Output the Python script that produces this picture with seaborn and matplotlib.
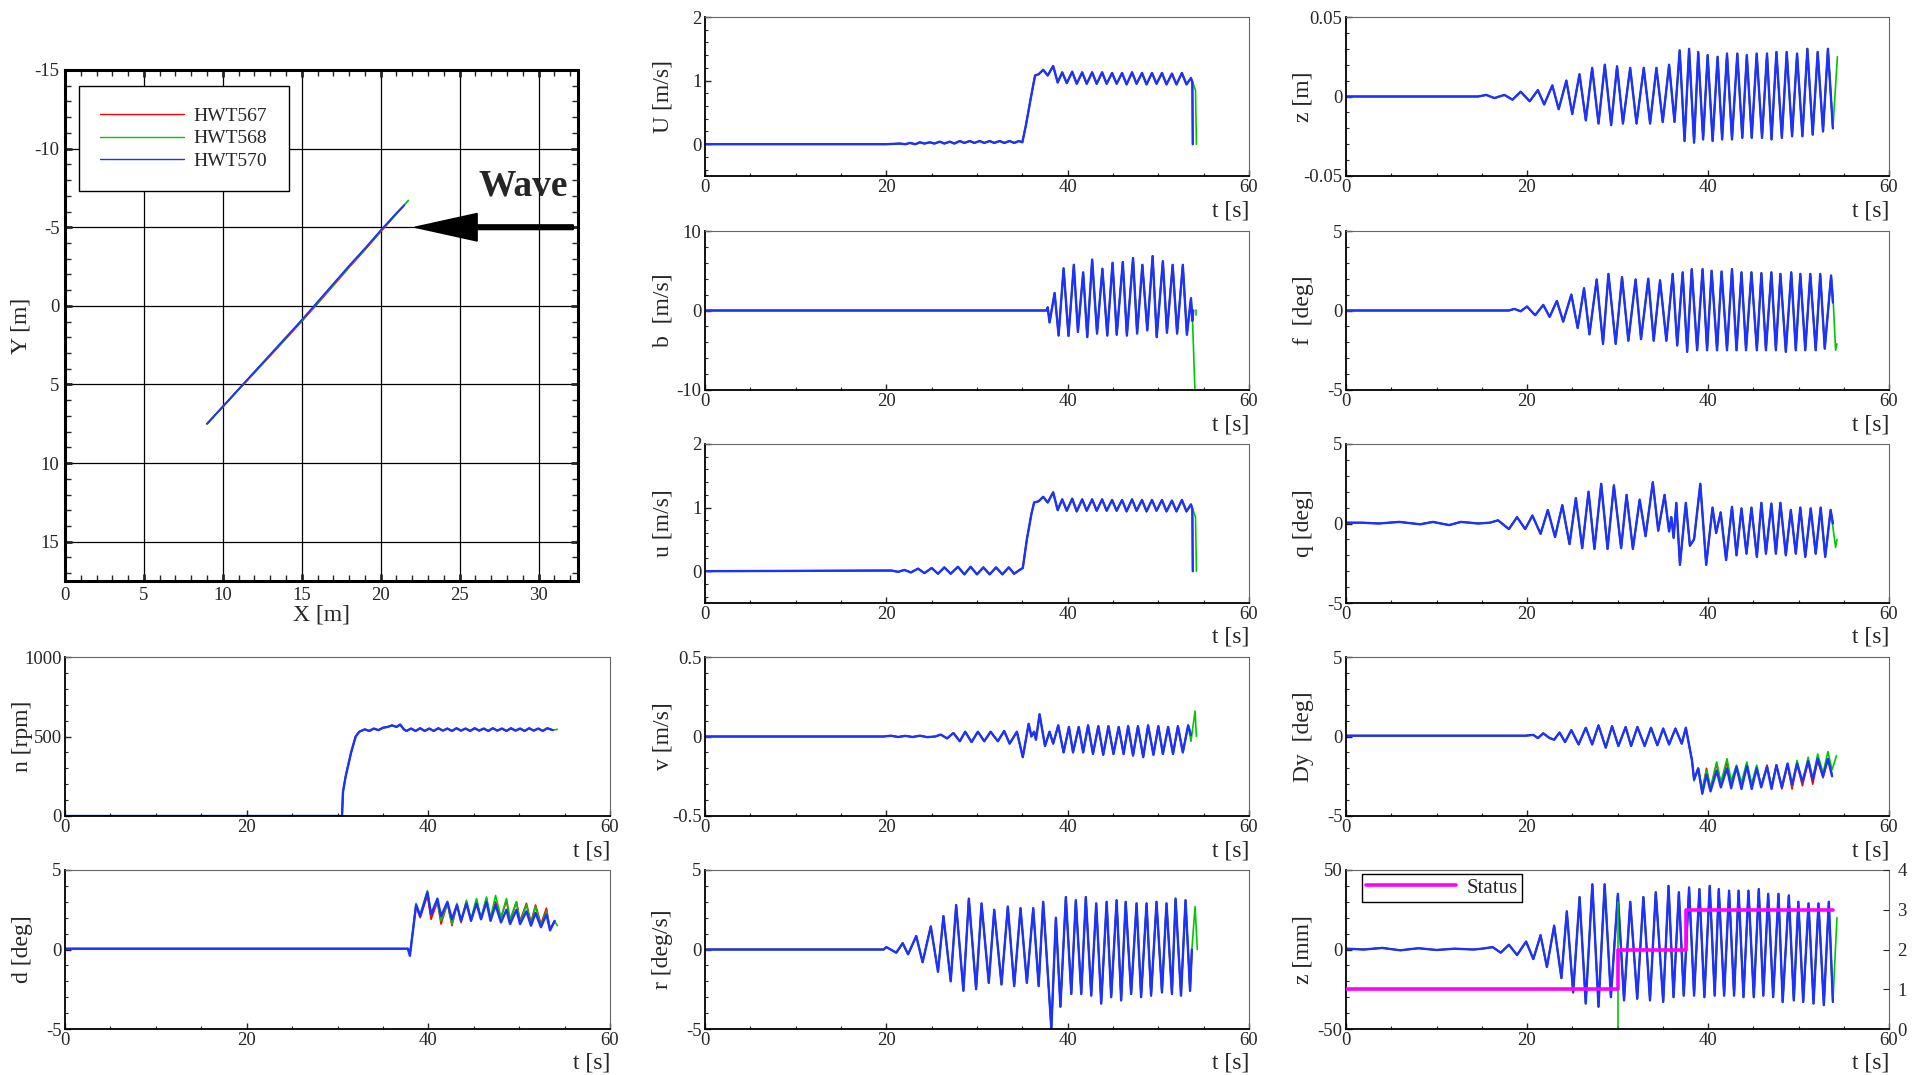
import matplotlib
matplotlib.use('Agg')
import matplotlib.pyplot as plt
from matplotlib.ticker import MultipleLocator, FuncFormatter
import seaborn as sns

# ---------------- data (t [s], value) ----------------
# ship track X/Y [m]
traj_red = [(9.0, 7.5), (10, 6.42), (11, 5.33), (12, 4.25), (13, 3.17), (14, 2.08), (15, 0.98),
            (16, -0.15), (17, -1.3), (18, -2.45), (19, -3.57), (20, -4.72), (21, -5.85), (21.4, -6.3)]
traj_green = [(9.0, 7.5), (10, 6.41), (11, 5.31), (12, 4.22), (13, 3.13), (14, 2.03), (15, 0.93),
              (16, -0.2), (17, -1.35), (18, -2.5), (19, -3.62), (20, -4.77), (21, -5.88), (21.75, -6.7)]
traj_blue = [(9.0, 7.5), (10, 6.4), (11, 5.3), (12, 4.2), (13, 3.1), (14, 2.0), (15, 0.9),
             (16, -0.25), (17, -1.4), (18, -2.55), (19, -3.65), (20, -4.8), (21, -5.9), (21.5, -6.4)]
runs = ['HWT567', 'HWT568', 'HWT570']

U_pts = [(0, 0), (20, 0.0), (21.5, 0.01), (22.1, 0.0), (22.6, 0.02), (23.2, 0.0), (23.7, 0.03),
         (24.2, 0.01), (24.8, 0.03), (25.3, 0.01), (25.9, 0.04), (26.4, 0.01), (27.0, 0.04),
         (27.5, 0.01), (28.1, 0.05), (28.6, 0.02), (29.2, 0.05), (29.7, 0.02), (30.3, 0.05),
         (30.8, 0.02), (31.4, 0.05), (31.9, 0.02), (32.5, 0.05), (33.0, 0.02), (33.6, 0.05),
         (34.1, 0.02), (34.6, 0.05), (35.0, 0.03), (35.4, 0.3), (35.9, 0.7), (36.4, 1.08),
         (36.8, 1.1), (37.3, 1.17), (37.8, 1.08), (38.4, 1.23), (38.9, 0.97), (39.4, 1.13),
         (39.9, 0.96), (40.5, 1.14), (41.0, 0.95), (41.6, 1.13), (42.1, 0.95), (42.7, 1.13),
         (43.2, 0.95), (43.8, 1.13), (44.3, 0.95), (44.9, 1.12), (45.4, 0.95), (46.0, 1.12),
         (46.5, 0.94), (47.1, 1.13), (47.6, 0.95), (48.2, 1.12), (48.7, 0.94), (49.3, 1.12),
         (49.8, 0.95), (50.4, 1.12), (50.9, 0.94), (51.5, 1.11), (52.0, 0.94), (52.6, 1.12),
         (53.1, 0.94), (53.6, 1.04)]
U_end = [(53.75, 0.98), (53.8, 0.0)]
U_end_green = [(54.1, 0.85), (54.2, 0.0)]

b_pts = [(0, 0), (37.7, 0), (37.8, 0.4), (38.0, -1.5), (38.56, 2.2), (39.0, -3.15), (39.55, 5.3),
         (40.09, -3.2), (40.68, 5.75), (41.13, -2.7), (41.71, 4.8), (42.16, -3.35), (42.7, 6.4),
         (43.24, -2.9), (43.83, 5.25), (44.37, -3.15), (44.95, 6.0), (45.41, -3.05), (46.08, 6.1),
         (46.53, -3.15), (47.21, 6.6), (47.66, -2.9), (48.24, 5.75), (48.78, -2.5), (49.37, 6.85),
         (49.82, -3.35), (50.5, 6.2), (50.95, -2.8), (51.58, 5.75), (52.07, -2.9), (52.7, 5.75),
         (53.15, -3.05), (53.6, 1.55)]
b_end = [(53.75, -1.3), (53.85, 0.0)]
b_end_green = [(53.75, -0.5), (54.05, -10.5)]
b_green_stub = [(54.2, -0.6), (54.2, 0.1)]

u_pts = [(0, 0), (19.5, 0.01), (20.6, 0.01), (21.3, -0.01), (22.0, 0.02), (22.7, -0.02), (23.5, 0.04),
         (24.2, -0.03), (25.0, 0.05), (25.7, -0.04), (26.4, 0.06), (27.1, -0.04), (27.9, 0.07),
         (28.6, -0.05), (29.3, 0.07), (30.0, -0.05), (30.7, 0.06), (31.4, -0.05), (32.1, 0.06),
         (32.8, -0.05), (33.5, 0.06), (34.1, -0.04), (34.7, 0.02), (35.05, 0.05), (35.5, 0.5),
         (36.0, 0.9), (36.3, 1.08), (36.8, 1.1), (37.3, 1.17), (37.8, 1.08), (38.4, 1.24),
         (38.9, 0.96), (39.4, 1.13), (39.9, 0.95), (40.5, 1.14), (41.0, 0.94), (41.6, 1.13),
         (42.1, 0.95), (42.7, 1.13), (43.2, 0.95), (43.8, 1.13), (44.3, 0.95), (44.9, 1.12),
         (45.4, 0.95), (46.0, 1.12), (46.5, 0.94), (47.1, 1.13), (47.6, 0.95), (48.2, 1.12),
         (48.7, 0.94), (49.3, 1.12), (49.8, 0.95), (50.4, 1.12), (50.9, 0.94), (51.5, 1.11),
         (52.0, 0.94), (52.6, 1.12), (53.1, 0.94), (53.6, 1.05)]
u_end = [(53.75, 0.98), (53.8, 0.0)]
u_end_green = [(54.1, 0.85), (54.2, 0.0)]

v_pts = [(0, 0), (19.7, 0.0), (20.5, 0.005), (21.3, -0.003), (22.1, 0.004), (22.9, -0.003),
         (23.7, 0.005), (24.5, -0.004), (25.4, 0.0), (26.0, 0.012), (26.7, -0.012), (27.4, 0.022),
         (28.1, -0.03), (28.7, 0.03), (29.4, -0.035), (30.1, 0.03), (30.8, -0.03), (31.5, 0.03),
         (32.3, -0.03), (33.0, 0.035), (33.6, -0.045), (34.4, 0.03), (35.05, -0.13), (35.7, 0.08),
         (36.0, 0.0), (36.3, 0.03), (36.5, -0.02), (36.9, 0.14), (37.5, -0.06), (38.0, 0.03),
         (38.4, -0.045), (38.96, 0.07), (39.55, -0.1), (40.14, 0.06), (40.59, -0.1), (41.22, 0.06),
         (41.71, -0.1), (42.25, 0.07), (42.79, -0.11), (43.38, 0.065), (43.92, -0.115),
         (44.5, 0.065), (45.05, -0.11), (45.63, 0.06), (46.17, -0.11), (46.67, 0.065),
         (47.21, -0.12), (47.75, 0.065), (48.33, -0.13), (48.87, 0.07), (49.46, -0.115),
         (50.0, 0.065), (50.5, -0.11), (51.08, 0.06), (51.62, -0.11), (52.16, 0.065),
         (52.7, -0.1), (53.29, 0.07)]
v_end = [(53.6, 0.01)]
v_end_green = [(53.6, -0.03), (54.05, 0.16), (54.2, 0.0)]

r_pts = [(0, 0), (19.7, 0.0), (20.0, 0.15), (21.1, -0.2), (21.8, 0.4), (22.4, -0.3), (23.3, 0.85),
         (24.0, -0.8), (24.9, 1.45), (25.7, -1.4), (26.3, 2.1), (27.1, -2.0), (27.7, 2.8),
         (28.5, -2.6), (29.1, 3.2), (29.9, -2.5), (30.5, 2.9), (31.3, -2.1), (31.9, 2.5),
         (32.7, -2.2), (33.4, 2.7), (34.1, -2.3), (34.8, 2.6), (35.5, -2.1), (36.2, 2.6),
         (36.8, -2.3), (37.3, 3.0), (38.2, -5.0), (38.7, 2.0), (39.2, -3.6), (39.8, 3.3),
         (40.4, -2.8), (40.9, 3.1), (41.5, -2.8), (42.0, 3.3), (42.6, -2.9), (43.15, 2.9),
         (43.7, -3.4), (44.3, 3.0), (44.8, -3.0), (45.4, 3.1), (45.9, -3.2), (46.4, 3.0),
         (47.0, -2.8), (47.6, 2.9), (48.1, -3.0), (48.7, 2.9), (49.2, -2.9), (49.8, 3.0),
         (50.4, -2.7), (50.9, 2.9), (51.5, -2.8), (51.9, 3.2), (52.5, -2.9), (53.0, 3.1),
         (53.5, -2.6)]
r_end = [(53.7, 0.0)]
r_end_green = [(53.7, 0.0), (54.05, 2.7), (54.3, 0.0)]

z_pts = [(0, 0), (14.6, 0.0), (15.5, 0.001), (16.4, -0.001), (17.5, 0.001), (18.4, -0.002),
         (19.3, 0.003), (20.3, -0.003), (21.2, 0.004), (21.9, -0.005), (22.8, 0.007),
         (23.5, -0.008), (24.35, 0.010), (25.0, -0.011), (25.8, 0.014), (26.5, -0.015),
         (27.2, 0.018), (27.9, -0.017), (28.6, 0.020), (29.3, -0.018), (29.95, 0.019),
         (30.6, -0.017), (31.4, 0.018), (32.1, -0.017), (32.9, 0.018), (33.6, -0.017),
         (34.3, 0.018), (35.0, -0.016), (35.7, 0.020), (36.3, -0.016), (36.87, 0.029),
         (37.41, -0.028), (37.91, 0.030), (38.46, -0.029), (38.92, 0.028), (39.46, -0.027),
         (39.96, 0.026), (40.51, -0.028), (41.06, 0.025), (41.56, -0.027), (42.1, 0.027),
         (42.65, -0.027), (43.24, 0.027), (43.79, -0.026), (44.29, 0.026), (44.83, -0.026),
         (45.38, 0.027), (45.97, -0.026), (46.52, 0.027), (47.02, -0.027), (47.56, 0.028),
         (48.16, -0.026), (48.7, 0.028), (49.29, -0.025), (49.84, 0.027), (50.43, -0.025),
         (50.98, 0.030), (51.57, -0.024), (52.12, 0.028), (52.71, -0.022), (53.25, 0.030),
         (53.8, -0.020)]
z_end_green = [(54.3, 0.025)]

f_pts = [(0, 0), (18.0, 0.0), (18.6, 0.1), (19.3, -0.05), (20.0, 0.25), (20.9, -0.3), (21.8, 0.35),
         (22.5, -0.4), (23.3, 0.6), (24.0, -0.7), (24.9, 1.0), (25.6, -1.1), (26.3, 1.4),
         (26.9, -1.5), (27.7, 1.95), (28.4, -2.1), (29.0, 2.3), (29.8, -2.1), (30.5, 2.1),
         (31.2, -1.9), (32.0, 1.95), (32.6, -1.8), (33.4, 2.0), (34.0, -1.9), (34.7, 1.9),
         (35.4, -1.9), (36.1, 2.3), (36.6, -2.2), (37.2, 2.4), (37.7, -2.6), (38.2, 2.6),
         (38.8, -2.5), (39.4, 2.6), (39.9, -2.5), (40.4, 2.5), (41.0, -2.5), (41.5, 2.45),
         (42.1, -2.5), (42.65, 2.6), (43.15, -2.5), (43.7, 2.4), (44.2, -2.5), (44.8, 2.4),
         (45.4, -2.5), (45.9, 2.35), (46.4, -2.5), (47.0, 2.4), (47.5, -2.5), (48.0, 2.3),
         (48.6, -2.6), (49.2, 2.4), (49.7, -2.5), (50.2, 2.3), (50.75, -2.5), (51.3, 2.3),
         (51.9, -2.5), (52.4, 2.3), (52.9, -2.4), (53.6, 2.2)]
f_end = [(53.8, 0.5)]
f_end_green = [(53.8, 1.0), (54.1, -2.5), (54.25, -2.1)]

q_pts = [(0, 0.05), (1.8, 0.05), (3.6, 0.0), (5.9, 0.1), (8.2, -0.05), (9.6, 0.1), (11.4, -0.1),
         (12.7, 0.1), (14.6, 0.0), (15.9, 0.05), (16.8, 0.2), (18.0, -0.35), (18.9, 0.4),
         (19.8, -0.35), (20.6, 0.5), (21.5, -0.65), (22.3, 0.85), (23.1, -0.85), (23.9, 1.15),
         (24.7, -1.3), (25.4, 1.6), (26.1, -1.55), (26.8, 2.0), (27.45, -1.6), (28.2, 2.5),
         (28.9, -1.6), (29.6, 2.4), (30.4, -1.55), (31.0, 1.8), (31.7, -1.6), (32.45, 1.5),
         (33.1, -0.8), (33.9, 2.6), (34.5, -0.45), (35.2, 1.8), (35.7, -0.5), (35.95, 0.4),
         (36.2, -0.9), (36.5, 1.3), (36.9, -2.6), (37.55, 1.3), (38.0, -1.4), (38.46, -1.0),
         (39.15, 2.5), (39.8, -2.6), (40.5, 1.0), (40.9, -0.6), (41.4, 0.7), (42.0, -2.3),
         (42.65, 1.05), (43.15, -2.0), (43.7, 0.95), (44.25, -1.9), (44.8, 1.0), (45.4, -2.1),
         (45.9, 1.3), (46.4, -1.9), (47.0, 1.25), (47.5, -1.9), (48.0, 1.3), (48.6, -2.0),
         (49.15, 0.85), (49.7, -1.9), (50.2, 1.0), (50.75, -2.1), (51.35, 0.95), (51.9, -1.9),
         (52.45, 1.0), (52.95, -2.1), (53.55, 0.85)]
q_end = [(53.8, 0.0)]
q_end_green = [(54.1, -1.5), (54.25, -1.0)]

Dy_pre = [(0, 0.05), (19.8, 0.05), (20.7, 0.1), (21.2, -0.1), (21.8, 0.2), (22.5, -0.1), (23.0, -0.2),
          (23.6, 0.25), (24.2, -0.35), (24.9, 0.4), (25.7, -0.5), (26.5, 0.55), (27.2, -0.5),
          (27.9, 0.7), (28.7, -0.7), (29.4, 0.65), (30.1, -0.6), (30.9, 0.6), (31.5, -0.6),
          (32.2, 0.6), (33.0, -0.6), (33.7, 0.55), (34.4, -0.55), (35.05, 0.5), (35.7, -0.5),
          (36.4, 0.5), (37.1, -0.45), (37.55, 0.55), (38.23, -1.5)]
Dy_t = [38.46, 38.92, 39.37, 39.83, 40.28, 40.96, 41.42, 42.1, 42.56, 43.15, 43.7, 44.29, 44.83,
        45.38, 45.88, 46.52, 47.02, 47.56, 48.16, 48.79, 49.29, 49.84, 50.43, 51.07, 51.57,
        52.12, 52.71, 53.25, 53.71]
Dy_red = [-2.7, -2.0, -3.5, -2.0, -3.3, -1.7, -3.0, -1.6, -3.0, -2.0, -3.1, -1.9, -3.0, -2.0, -3.1,
          -1.8, -3.2, -1.8, -3.3, -1.8, -3.3, -1.7, -3.1, -1.6, -3.0, -1.5, -2.6, -1.4, -2.4]
Dy_green = [-2.8, -2.0, -3.3, -2.1, -3.2, -1.6, -2.9, -1.4, -2.8, -1.8, -2.9, -1.6, -3.0, -1.8, -3.1,
            -1.9, -3.1, -1.8, -3.2, -1.7, -3.1, -1.5, -2.9, -1.3, -2.7, -1.1, -2.3, -0.95, -2.1]
Dy_blue = [-2.7, -2.0, -3.6, -2.4, -3.45, -2.15, -3.2, -2.0, -3.25, -1.9, -3.3, -1.85, -3.3, -2.0,
           -3.2, -1.9, -3.3, -1.8, -3.2, -1.7, -3.05, -1.7, -2.85, -1.55, -2.7, -1.4, -2.5, -1.4, -2.5]
Dy_end_green = [(54.2, -1.2)]

zmm_pts = [(0, 0.5), (2, 0.0), (4, 1.0), (6, -0.5), (8, 0.8), (10, -0.3), (12, 0.5), (14.1, 0.0),
           (15.0, 0.5), (16.2, 1.5), (17.1, -2.0), (18.0, 3.0), (18.9, -3.5), (19.9, 5.0),
           (20.7, -6.0), (21.5, 9.0), (22.2, -11.0), (23.0, 15.0), (23.8, -18.0), (24.4, 24.0),
           (25.1, -27.0), (25.81, 33), (26.49, -34), (27.22, 41), (27.9, -36), (28.58, 41),
           (29.27, -30), (30.04, 35), (30.72, -32), (31.41, 30), (32.18, -31), (32.86, 33),
           (33.59, -32), (34.23, 36), (35.05, -33), (35.64, 40), (36.19, -30), (36.78, 36),
           (37.32, -29), (37.91, 39), (38.46, -29), (39.05, 38), (39.6, -30), (40.19, 40),
           (40.74, -29), (41.19, 38), (41.78, -29), (42.33, 37), (42.88, -29), (43.38, 37),
           (43.92, -30), (44.47, 37), (45.06, -30), (45.61, 38), (46.11, -29), (46.65, 35),
           (47.2, -30), (47.79, 35), (48.25, -33), (48.93, 34), (49.48, -32), (49.98, 30),
           (50.52, -33), (51.11, 29), (51.66, -34), (52.21, 29), (52.8, -35), (53.35, 30),
           (53.8, -33)]
zmm_end_green = [(54.25, 20)]
zmm_green_spike = [(30.05, 30), (30.05, -55)]
status_t = [0, 30.0, 37.6, 53.8]
status_v = [1, 2, 3, 3]

n_pts = [(0, 0), (30.5, 0), (30.6, 150), (30.9, 250), (31.5, 400), (32.0, 500), (32.4, 530),
         (33.0, 545), (33.5, 535), (34.0, 550), (34.5, 540), (35.0, 555), (35.5, 560), (36.0, 570),
         (36.5, 560), (36.9, 575), (37.3, 545), (37.6, 535), (38.1, 550), (38.6, 535), (39.1, 552),
         (39.6, 535), (40.1, 550), (40.6, 535), (41.1, 552), (41.6, 537), (42.1, 550), (42.6, 535),
         (43.1, 552), (43.6, 537), (44.1, 550), (44.6, 535), (45.1, 552), (45.6, 537), (46.1, 550),
         (46.6, 535), (47.1, 552), (47.6, 537), (48.1, 550), (48.6, 535), (49.1, 552), (49.6, 537),
         (50.1, 550), (50.6, 535), (51.1, 552), (51.6, 537), (52.1, 550), (52.6, 535), (53.1, 552),
         (53.7, 540)]
n_end_green = [(54.2, 545)]

d_t = [0, 37.75, 37.97, 38.65, 39.1, 39.9, 40.3, 41.0, 41.4, 42.1, 42.6, 43.15, 43.6, 44.2, 44.7,
       45.3, 45.8, 46.4, 46.85, 47.4, 48.0, 48.6, 49.0, 49.7, 50.1, 50.8, 51.3, 51.8, 52.4, 53.0,
       53.4, 53.9]
d_red = [0.05, 0.05, -0.3, 2.7, 2.0, 3.4, 1.9, 3.0, 1.6, 2.9, 1.5, 2.8, 1.7, 3.0, 1.8, 3.1, 1.9,
         3.2, 1.9, 3.0, 2.0, 3.1, 1.8, 3.0, 1.8, 2.9, 1.7, 2.8, 1.6, 2.6, 1.3, 1.7]
d_green = [0.05, 0.05, -0.3, 2.9, 2.2, 3.7, 2.3, 3.0, 1.8, 2.9, 1.6, 2.9, 1.8, 3.1, 1.9, 3.2, 2.0,
           3.3, 2.0, 3.4, 2.0, 3.2, 1.9, 3.0, 1.7, 2.8, 1.6, 2.7, 1.5, 2.4, 1.3, 1.8]
d_blue = [0.05, 0.05, -0.4, 2.8, 2.1, 3.6, 2.2, 3.2, 2.1, 3.0, 1.9, 2.8, 1.8, 2.9, 1.8, 2.9, 1.9,
          3.0, 1.8, 2.8, 1.7, 2.5, 1.6, 2.5, 1.6, 2.4, 1.5, 2.3, 1.4, 2.2, 1.2, 1.8]
d_end_green = [(54.2, 1.5)]

# ---------------- style ----------------
sns.set_style('ticks')
plt.rcParams['font.family'] = ['Liberation Serif', 'DejaVu Serif']
plt.rcParams['axes.unicode_minus'] = False
plt.rcParams['xtick.direction'] = 'in'
plt.rcParams['ytick.direction'] = 'in'

RED, GREEN, BLUE, MAG = '#ff0000', '#00c800', '#1e32ff', '#ff00ff'
TICK_FS, LABEL_FS = 13.5, 17

W, H = 1927, 1075
fig = plt.figure(figsize=(W / 100, H / 100), dpi=100)


def fmt(v, pos):
    if abs(v) < 1e-9:
        return '0'
    return f'{v:g}'


def draw(ax, pts, color, lw, label=None):
    t, v = zip(*pts)
    sns.lineplot(x=list(t), y=list(v), ax=ax, color=color, lw=lw, sort=False,
                 estimator=None, legend=False, label=label)


def panel(left, top, width, ylabel, ylim, major, minor, series):
    height = 159
    ax = fig.add_axes([left / W, 1 - (top + height) / H, width / W, height / H])
    for pts, color, lw in series:
        draw(ax, pts, color, lw)
    ax.set_xlim(0, 60)
    ax.set_ylim(*ylim)
    ax.xaxis.set_major_locator(MultipleLocator(20))
    ax.xaxis.set_minor_locator(MultipleLocator(5))
    ax.yaxis.set_major_locator(MultipleLocator(major))
    ax.yaxis.set_minor_locator(MultipleLocator(minor))
    ax.xaxis.set_major_formatter(FuncFormatter(fmt))
    ax.yaxis.set_major_formatter(FuncFormatter(fmt))
    ax.tick_params(which='major', length=4, width=1, labelsize=TICK_FS, pad=2.5)
    ax.tick_params(which='minor', length=2.5, width=0.8)
    for s in ['left', 'bottom']:
        ax.spines[s].set_linewidth(1.3)
        ax.spines[s].set_color('black')
    for s in ['top', 'right']:
        ax.spines[s].set_visible(True)
        ax.spines[s].set_linewidth(0.8)
        ax.spines[s].set_color('#666666')
    ax.set_ylabel(ylabel, fontsize=LABEL_FS)
    ax.yaxis.set_label_coords(-32 / width, 0.5)
    ax.set_xlabel('t [s]', fontsize=LABEL_FS, ha='right', va='top')
    ax.xaxis.set_label_coords(1.0, -24 / height)
    return ax


def three(body, end_rb, end_g):
    return [(body + end_rb, RED, 1.2), (body + end_g, GREEN, 1.2), (body + end_rb, BLUE, 1.7)]


# ---------------- trajectory ----------------
ax = fig.add_axes([65 / W, 1 - 581 / H, 513 / W, 511 / H])
for pts, color, name in zip([traj_red, traj_green, traj_blue], [RED, GREEN, BLUE], runs):
    draw(ax, pts, color, 1.3, label=name)
ax.set_xlim(0, 32.5)
ax.set_ylim(17.5, -15)
ax.xaxis.set_major_locator(MultipleLocator(5))
ax.xaxis.set_minor_locator(MultipleLocator(1))
ax.yaxis.set_major_locator(MultipleLocator(5))
ax.yaxis.set_minor_locator(MultipleLocator(1))
ax.xaxis.set_major_formatter(FuncFormatter(fmt))
ax.yaxis.set_major_formatter(FuncFormatter(fmt))
ax.grid(True, which='major', color='black', lw=0.9)
ax.tick_params(which='both', top=True, right=True, labelsize=TICK_FS, pad=4)
ax.tick_params(which='major', length=5, width=2)
ax.tick_params(which='minor', length=4, width=1)
for s in ax.spines.values():
    s.set_linewidth(2.2)
    s.set_color('black')
ax.set_xlabel('X [m]', fontsize=LABEL_FS, va='top')
ax.xaxis.set_label_coords(0.5, -24 / 511)
ax.set_ylabel('Y [m]', fontsize=LABEL_FS)
ax.yaxis.set_label_coords(-34 / 513, 0.5)
ax.arrow(32.2, -5.0, -10.04, 0, width=0.3, head_width=1.75, head_length=3.95,
         length_includes_head=True, fc='black', ec='black', zorder=5, clip_on=False)
ax.text(29.0, -7.0, 'Wave', fontsize=27, fontweight='bold', ha='center', va='baseline')
leg = ax.legend(loc='upper left', bbox_to_anchor=(14 / 513, 1 - 16 / 511), borderaxespad=0,
                fontsize=14, frameon=True, fancybox=False, framealpha=1, edgecolor='black',
                handlelength=4.3, handletextpad=0.5, borderpad=1.1, labelspacing=0.25)
leg.get_frame().set_linewidth(1.0)
for line in leg.get_lines():
    line.set_linewidth(1.0)

# ---------------- columns ----------------
MID, RIGHT, LEFT = (705, 544), (1346, 543), (65, 545)
ROWS = [17, 231, 444, 657, 870]

panel(MID[0], ROWS[0], MID[1], 'U [m/s]', (-0.5, 2), 1, 0.2, three(U_pts, U_end, U_end_green))
ax_b = panel(MID[0], ROWS[1], MID[1], 'b  [m/s]', (-10, 10), 10, 2, three(b_pts, b_end, b_end_green))
draw(ax_b, b_green_stub, GREEN, 1.2)
ax_b.set_ylim(-10, 10)
panel(MID[0], ROWS[2], MID[1], 'u [m/s]', (-0.5, 2), 1, 0.2, three(u_pts, u_end, u_end_green))
panel(MID[0], ROWS[3], MID[1], 'v [m/s]', (-0.5, 0.5), 0.5, 0.1, three(v_pts, v_end, v_end_green))
panel(MID[0], ROWS[4], MID[1], 'r [deg/s]', (-5, 5), 5, 1, three(r_pts, r_end, r_end_green))

panel(RIGHT[0], ROWS[0], RIGHT[1], 'z [m]', (-0.05, 0.05), 0.05, 0.01, three(z_pts, [], z_end_green))
panel(RIGHT[0], ROWS[1], RIGHT[1], 'f  [deg]', (-5, 5), 5, 1, three(f_pts, f_end, f_end_green))
panel(RIGHT[0], ROWS[2], RIGHT[1], 'q [deg]', (-5, 5), 5, 1, three(q_pts, q_end, q_end_green))
Dy_series = [(Dy_pre + list(zip(Dy_t, Dy_red)), RED, 1.2),
             (Dy_pre + list(zip(Dy_t, Dy_green)) + Dy_end_green, GREEN, 1.2),
             (Dy_pre + list(zip(Dy_t, Dy_blue)), BLUE, 1.7)]
panel(RIGHT[0], ROWS[3], RIGHT[1], 'Dy  [deg]', (-5, 5), 5, 1, Dy_series)

ax_z = panel(RIGHT[0], ROWS[4], RIGHT[1], 'z [mm]', (-50, 50), 50, 10,
             three(zmm_pts, [], zmm_end_green))
draw(ax_z, zmm_green_spike, GREEN, 1.2)
ax_z.set_ylim(-50, 50)
ax_s = ax_z.twinx()
sns.lineplot(x=status_t, y=status_v, ax=ax_s, color=MAG, lw=2.6, drawstyle='steps-post',
             sort=False, estimator=None, label='Status')
ax_s.set_ylim(0, 4)
ax_s.yaxis.set_major_locator(MultipleLocator(1))
ax_s.yaxis.set_major_formatter(FuncFormatter(fmt))
ax_s.tick_params(axis='y', length=4, labelsize=TICK_FS, pad=6)
ax_s.set_ylabel('')
for s in ax_s.spines.values():
    s.set_visible(False)
sleg = ax_s.legend(loc='upper left', bbox_to_anchor=(16 / 543, 1 - 4 / 159), borderaxespad=0,
                   fontsize=15, frameon=True, fancybox=False, framealpha=1, edgecolor='black',
                   handlelength=4.3, handletextpad=0.5, borderpad=0.2)
sleg.get_frame().set_linewidth(1.0)

panel(LEFT[0], ROWS[3], LEFT[1], 'n [rpm]', (0, 1000), 500, 100, three(n_pts, [], n_end_green))
d_series = [(list(zip(d_t, d_red)), RED, 1.2),
            (list(zip(d_t, d_green)) + d_end_green, GREEN, 1.2),
            (list(zip(d_t, d_blue)), BLUE, 1.7)]
panel(LEFT[0], ROWS[4], LEFT[1], 'd [deg]', (-5, 5), 5, 1, d_series)

fig.savefig('out.png', dpi=100)
